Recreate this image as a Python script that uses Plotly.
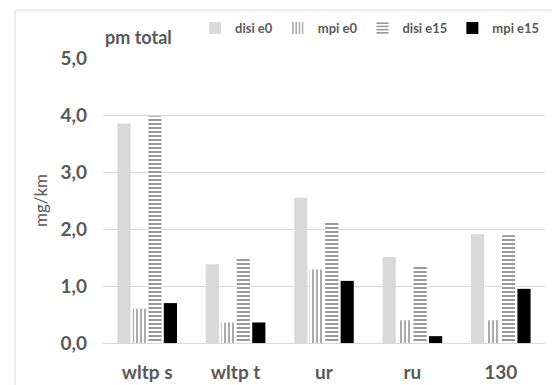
import plotly.graph_objects as go

categories = ["wltp s", "wltp t", "ur", "ru", "130"]
disi_e0 = [3.85, 1.38, 2.55, 1.51, 1.91]
mpi_e0 = [0.60, 0.36, 1.29, 0.40, 0.40]
disi_e15 = [3.98, 1.50, 2.12, 1.34, 1.89]
mpi_e15 = [0.70, 0.36, 1.09, 0.12, 0.95]
y_ticks = [0, 1, 2, 3, 4, 5]

FONT = "Lato"
GRAY = "#595959"

fig = go.Figure()
fig.add_trace(go.Bar(name="disi e0", x=categories, y=disi_e0,
                     marker=dict(color="#d9d9d9", line=dict(width=0))))
fig.add_trace(go.Bar(name="mpi e0", x=categories, y=mpi_e0,
                     marker=dict(color="white", line=dict(width=0),
                                 pattern=dict(shape="|", fgcolor="#595959", bgcolor="white",
                                              size=4, solidity=0.5))))
fig.add_trace(go.Bar(name="disi e15", x=categories, y=disi_e15,
                     marker=dict(color="white", line=dict(width=0),
                                 pattern=dict(shape="-", fgcolor="#333333", bgcolor="white",
                                              size=4, solidity=0.5))))
fig.add_trace(go.Bar(name="mpi e15", x=categories, y=mpi_e15,
                     marker=dict(color="#000000", line=dict(width=0))))

# the page body has an 8px margin, so the figure is sized to fit the 560x385 window
fig.update_layout(
    width=552, height=377,
    margin=dict(l=95, r=15, t=50, b=42, autoexpand=False),
    paper_bgcolor="white", plot_bgcolor="white",
    barmode="group", bargap=0.3, bargroupgap=0.15,
    separators=",.",
    font=dict(family=FONT, color=GRAY),
    legend=dict(orientation="h", x=1.0, xanchor="right", y=1.105, yanchor="middle",
                font=dict(family=FONT, size=13, color=GRAY, weight="bold"),
                itemwidth=30, bgcolor="rgba(0,0,0,0)"),
    xaxis=dict(showgrid=False, showline=True, linecolor="#d9d9d9", linewidth=1,
               ticks="", tickfont=dict(family=FONT, size=19, color=GRAY, weight="bold"),
               ticklabelstandoff=12),
    yaxis=dict(range=[0, 5], tickvals=y_ticks, tickformat=".1f",
               showgrid=True, gridcolor="#d9d9d9", gridwidth=1, zeroline=False,
               showline=False, ticks="",
               tickfont=dict(family=FONT, size=19, color=GRAY, weight="bold"),
               ticklabelstandoff=15,
               title=dict(text="mg/km", font=dict(family=FONT, size=17, color=GRAY), standoff=8)),
)

fig.add_annotation(text="<b>pm total</b>", xref="paper", yref="paper", x=0.0, y=1.074,
                   xanchor="left", yanchor="middle", showarrow=False,
                   font=dict(family=FONT, size=18, color=GRAY))

fig.add_shape(type="rect", xref="paper", yref="paper", x0=-0.199, x1=1.029, y0=-0.2, y1=1.168,
              line=dict(color="#d9d9d9", width=1), fillcolor="rgba(0,0,0,0)", layer="below")

fig.write_html("out.html")
